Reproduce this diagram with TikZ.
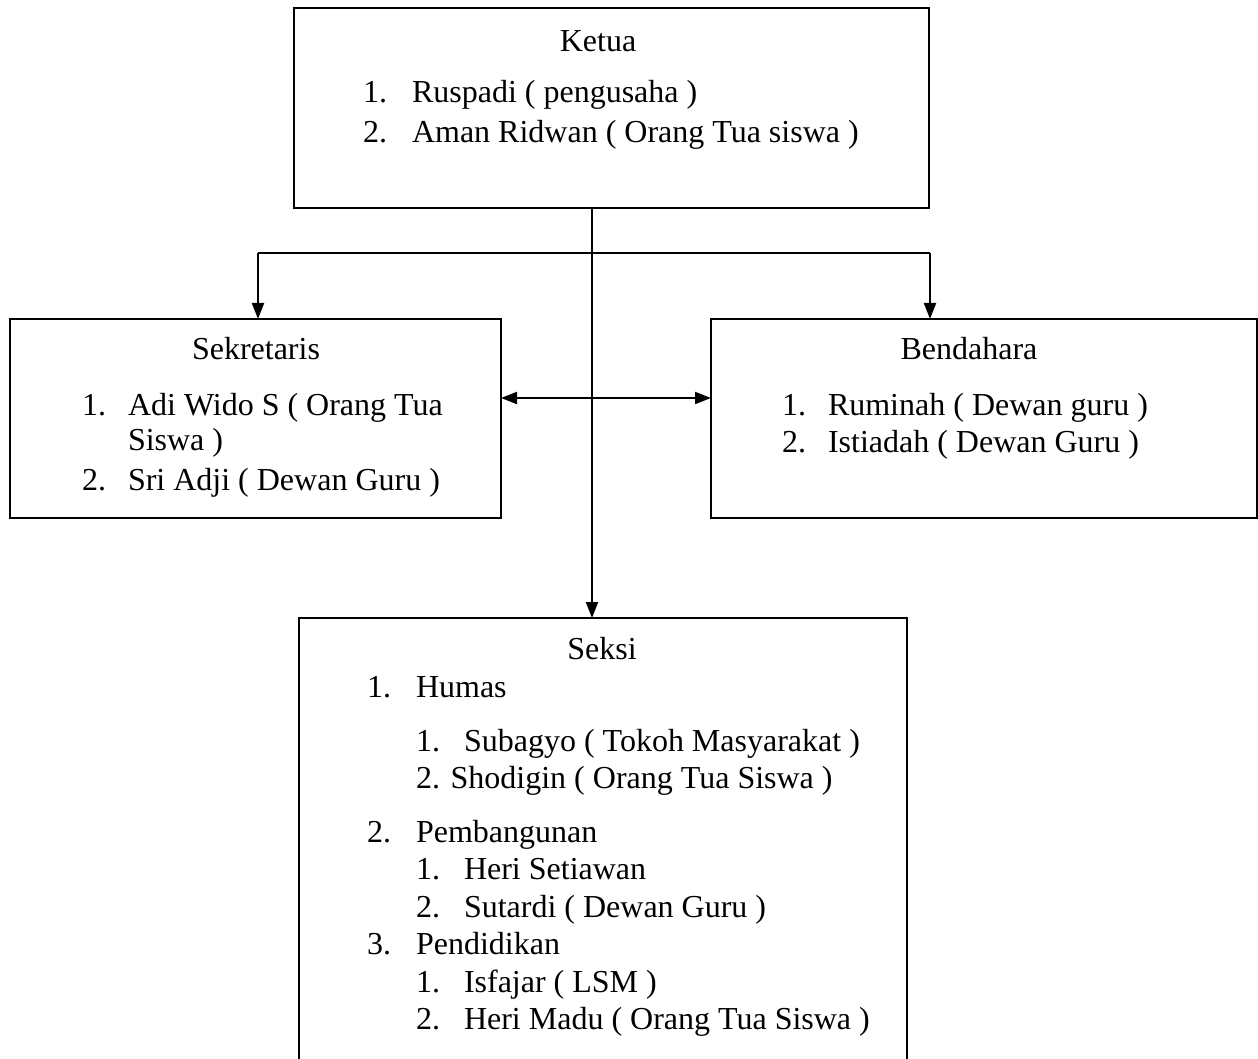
\documentclass[tikz,border=0pt]{standalone}
\usepackage{fontspec}
\setmainfont{Liberation Serif}
\usetikzlibrary{arrows.meta}
\begin{document}
\begin{tikzpicture}[x=0.375pt,y=-0.375pt,
  box/.style={draw,line width=0.75pt,rectangle,inner sep=0pt,outer sep=0pt},
  txt/.style={inner sep=0pt,outer sep=0pt,anchor=base west,font=\fontsize{12pt}{14pt}\selectfont},
  ttl/.style={inner sep=0pt,outer sep=0pt,anchor=base,font=\fontsize{12pt}{14pt}\selectfont},
  link/.style={line width=0.75pt},
  arr/.style={line width=0.75pt,-{Triangle[length=6pt,width=4.5pt]}},
  arrb/.style={line width=0.75pt,{Triangle[length=6pt,width=4.5pt]}-{Triangle[length=6pt,width=4.5pt]}}]
\useasboundingbox (0,0) rectangle (1258,1059);
\begin{scope}
\clip (0,0) rectangle (1258,1059);
% boxes
\node[box,minimum width=635*0.375pt,minimum height=200*0.375pt] (ketua) at (611.5,108) {};
\node[box,minimum width=491*0.375pt,minimum height=199*0.375pt] (sek) at (255.5,418.5) {};
\node[box,minimum width=546*0.375pt,minimum height=199*0.375pt] (ben) at (984,418.5) {};
\node[box,minimum width=608*0.375pt,minimum height=460*0.375pt] (seksi) at (603,848) {};
\end{scope}
% connector points
\coordinate (trunk) at (592,253);
\coordinate (lj) at (258,253);
\coordinate (rj) at (930,253);
\coordinate (mid) at (600,398);
\draw[link] (ketua.south -| trunk) -- (trunk);
\draw[arr] (trunk) -- (trunk |- seksi.north);
\draw[link] (lj) -- (rj);
\draw[arr] (lj) -- (lj |- sek.north);
\draw[arr] (rj) -- (rj |- ben.north);
\draw[arrb] (sek.east |- mid) -- (ben.west |- mid);
% Ketua text
\node[ttl] (kt) at (598,52) {Ketua};
\node[txt] (k1n) at (363,103) {1.};
\node[txt] (k1) at (412,103) {Ruspadi ( pengusaha )};
\node[txt] (k2n) at (363,143) {2.};
\node[txt] (k2) at (412,143) {Aman Ridwan ( Orang Tua siswa )};
% Sekretaris text
\node[ttl] (st) at (256,360) {Sekretaris};
\node[txt] (s1n) at (82,415) {1.};
\node[txt] (s1) at (128,415) {Adi Wido S ( Orang Tua};
\node[txt] (s1b) at (128,451) {Siswa )};
\node[txt] (s2n) at (82,490) {2.};
\node[txt] (s2) at (128,490) {Sri Adji ( Dewan Guru )};
% Bendahara text
\node[ttl] (bt) at (969,360) {Bendahara};
\node[txt] (b1n) at (782,415) {1.};
\node[txt] (b1) at (828,415) {Ruminah ( Dewan guru )};
\node[txt] (b2n) at (782,452) {2.};
\node[txt] (b2) at (828,452) {Istiadah ( Dewan Guru )};
% Seksi text
\node[ttl] (xt) at (602,659) {Seksi};
\node[txt] (x1n) at (367,697) {1.};
\node[txt] (x1) at (416,697) {Humas};
\node[txt] (x11n) at (416,751) {1.};
\node[txt] (x11) at (464,751) {Subagyo ( Tokoh Masyarakat )};
\node[txt] (x12) at (416,788) {2. Shodigin ( Orang Tua Siswa )};
\node[txt] (x2n) at (367,842) {2.};
\node[txt] (x2) at (416,842) {Pembangunan};
\node[txt] (x21n) at (416,879) {1.};
\node[txt] (x21) at (464,879) {Heri Setiawan};
\node[txt] (x22n) at (416,917) {2.};
\node[txt] (x22) at (464,917) {Sutardi ( Dewan Guru )};
\node[txt] (x3n) at (367,954) {3.};
\node[txt] (x3) at (416,954) {Pendidikan};
\node[txt] (x31n) at (416,992) {1.};
\node[txt] (x31) at (464,992) {Isfajar ( LSM )};
\node[txt] (x32n) at (416,1029) {2.};
\node[txt] (x32) at (464,1029) {Heri Madu ( Orang Tua Siswa )};
\end{tikzpicture}
\end{document}
